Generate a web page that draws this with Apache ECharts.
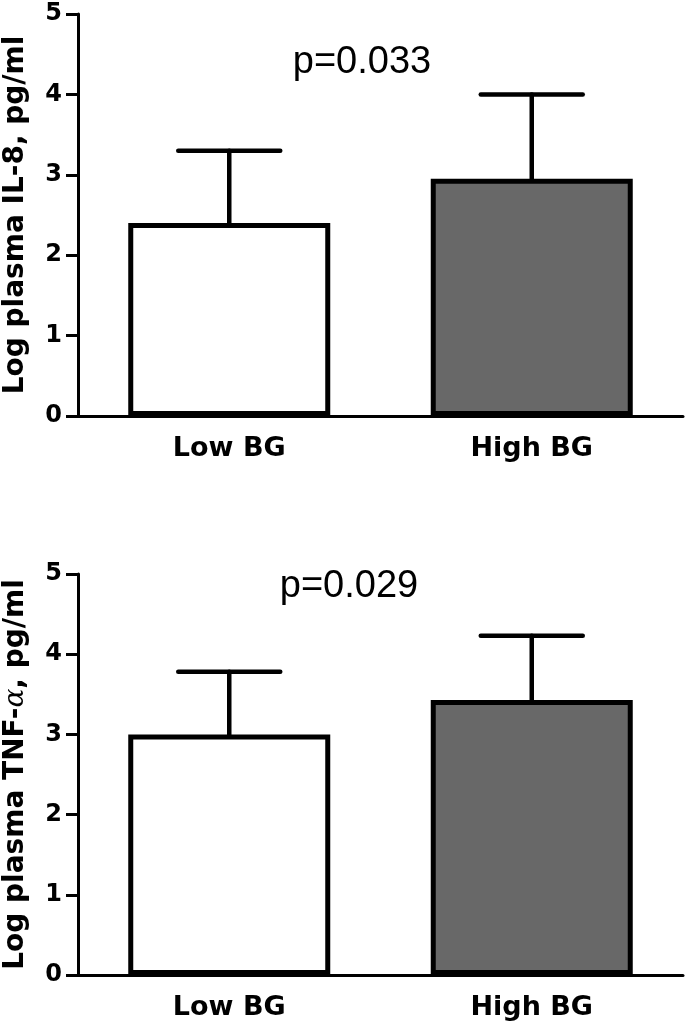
<!DOCTYPE html>
<html>
<head>
<meta charset="utf-8">
<script src="https://cdn.jsdelivr.net/npm/echarts@6/dist/echarts.min.js"></script>
<style>
html,body{margin:0;padding:0;background:#fff;}
#chart{width:687px;height:1025px;}
</style>
</head>
<body>
<div id="chart"></div>
<script>
// ---- data ----
const categories = ['Low BG', 'High BG'];
const il8Mean = [2.40, 2.95];
const il8Upper = [3.30, 4.00];
const tnfMean = [3.00, 3.43];
const tnfUpper = [3.78, 4.23];
const yTicks = [0, 1, 2, 3, 4, 5];
const pTexts = ['p=0.033', 'p=0.029'];
const yNames = ['Log plasma IL-8, pg/ml', '{b|Log plasma TNF-}{a|α}{b|, pg/ml}'];
const barColors = ['#ffffff', '#686868'];

const chart = echarts.init(document.getElementById('chart'), null, {renderer: 'canvas'});
const boldFont = 'DejaVu Sans';

function xAxisCfg(gi) {
  return {
    type: 'category', gridIndex: gi, data: categories,
    axisLine: {lineStyle: {color: '#000', width: 3}},
    axisTick: {alignWithLabel: true, length: 12, lineStyle: {color: '#000', width: 3}},
    axisLabel: {color: '#000', fontFamily: boldFont, fontWeight: 'bold', fontSize: 27, margin: 19}
  };
}
function yAxisCfg(gi, name) {
  return {
    type: 'value', gridIndex: gi, min: yTicks[0], max: yTicks[yTicks.length - 1], interval: 1,
    name: name, nameLocation: 'middle', nameGap: 48,
    nameTextStyle: {
      color: '#000', fontFamily: boldFont, fontWeight: 'bold', fontSize: 28,
      rich: {
        b: {color: '#000', fontFamily: boldFont, fontWeight: 'bold', fontSize: 28},
        a: {color: '#000', fontFamily: 'DejaVu Serif', fontStyle: 'italic', fontWeight: 'normal', fontSize: 28}
      }
    },
    axisLine: {show: true, lineStyle: {color: '#000', width: 3}},
    axisTick: {show: true, length: 12, lineStyle: {color: '#000', width: 3}},
    axisLabel: {color: '#000', fontFamily: boldFont, fontWeight: 'bold', fontSize: 24, margin: 16},
    splitLine: {show: false}
  };
}
function barSeries(gi, means) {
  return {
    type: 'bar', xAxisIndex: gi, yAxisIndex: gi, barWidth: 202, z: 3,
    data: means.map((v, i) => ({value: v, itemStyle: {color: barColors[i]}})),
    itemStyle: {borderColor: '#000', borderWidth: 5},
    animation: false
  };
}
function errSeries(gi, means, uppers) {
  return {
    type: 'custom', xAxisIndex: gi, yAxisIndex: gi, z: 2,
    data: means.map((m, i) => [i, m, uppers[i]]),
    renderItem: function (params, api) {
      const base = api.coord([api.value(0), api.value(1)]);
      const top = api.coord([api.value(0), api.value(2)]);
      const hw = 51;
      const st = {stroke: '#000', lineWidth: 4.5, lineCap: 'round'};
      return {
        type: 'group',
        children: [
          {type: 'line', shape: {x1: base[0], y1: base[1], x2: top[0], y2: top[1]}, style: st},
          {type: 'line', shape: {x1: top[0] - hw, y1: top[1], x2: top[0] + hw, y2: top[1]}, style: st}
        ]
      };
    },
    animation: false
  };
}

chart.setOption({
  animation: false,
  backgroundColor: '#fff',
  grid: [
    {left: 78, right: 4, top: 14, height: 402, containLabel: false, outerBoundsMode: 'none'},
    {left: 78, right: 4, top: 574, height: 401, containLabel: false, outerBoundsMode: 'none'}
  ],
  xAxis: [xAxisCfg(0), xAxisCfg(1)],
  yAxis: [yAxisCfg(0, yNames[0]), yAxisCfg(1, yNames[1])],
  series: [
    errSeries(0, il8Mean, il8Upper), barSeries(0, il8Mean),
    errSeries(1, tnfMean, tnfUpper), barSeries(1, tnfMean)
  ],
  graphic: [
    {type: 'text', x: 362, y: 63, style: {text: pTexts[0], font: '38px "Liberation Sans"', fill: '#000', textAlign: 'center', textVerticalAlign: 'middle'}},
    {type: 'text', x: 349, y: 587, style: {text: pTexts[1], font: '38px "Liberation Sans"', fill: '#000', textAlign: 'center', textVerticalAlign: 'middle'}}
  ]
});
</script>
</body>
</html>
